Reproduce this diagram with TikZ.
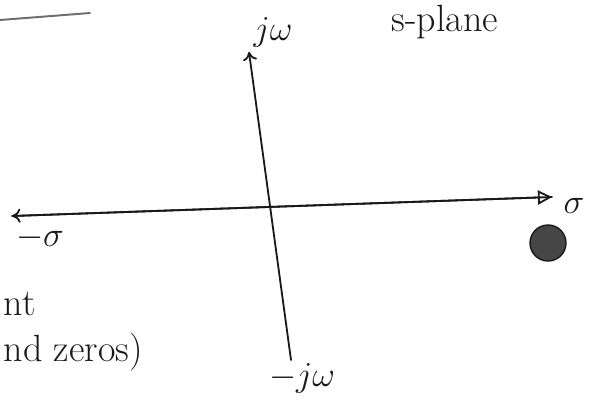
\documentclass[tikz,border=0pt]{standalone}
\usepackage{amsmath}
\usepackage{xcolor}
\definecolor{InkBlack}{RGB}{25,25,25}
\definecolor{InkGray}{RGB}{110,110,110}
\definecolor{PoleGray}{RGB}{70,70,70}
\usepackage{tikz}
\usetikzlibrary{arrows.meta, positioning, calc}
\tikzset{
  % Axis stroke
  axis/.style={line width=1.3pt, draw=InkBlack, line cap=round},
  % Hand-written label
  hlabel/.style={font=\fontsize{27}{31}\selectfont, text=InkBlack, inner sep=1pt},
  % Filled pole dot
  pole/.style={circle, draw=InkBlack, line width=1pt, fill=PoleGray, minimum size=0.9cm, inner sep=0pt},
}

\begin{document}
\begin{tikzpicture}[x=0.025cm, y=-0.025cm]
  \useasboundingbox (0,0) rectangle (609,403);

  %% Stroke from the previous line
  \draw[line width=1.4pt, InkGray, line cap=round] (0,20) -- (90,13);

  %% Axis end points
  \coordinate (sigL) at (12,216);
  \coordinate (sigR) at (552,197);
  \coordinate (omB)  at (291,360);
  \coordinate (omT)  at (249,52);

  %% Axes
  \draw[axis, -{To[length=6pt,width=10pt]}] (sigR) -- (sigL);
  \draw[axis, -{Triangle[open,length=10pt,width=10pt]}] (sigL) -- (sigR);
  \draw[axis, -{To[length=6pt,width=10pt]}] (omB) -- (omT);

  %% Axis labels
  \node[hlabel] (jw)    at (273,32)  {$j\omega$};
  \node[hlabel] (mjw)   at (302,378) {$-j\omega$};
  \node[hlabel] (sig)   at (574,206) {$\sigma$};
  \node[hlabel] (msig)  at (40,238)  {$-\sigma$};
  \node[hlabel] (plane) at (445,22)  {s-plane};

  %% Pole
  \node[pole] (p1) at (548,243) {};

  %% Text on the left margin
  \node[hlabel, anchor=west] (nt)    at (2,304) {nt};
  \node[hlabel, anchor=west] (zeros) at (2,352) {nd zeros)};
\end{tikzpicture}
\end{document}
